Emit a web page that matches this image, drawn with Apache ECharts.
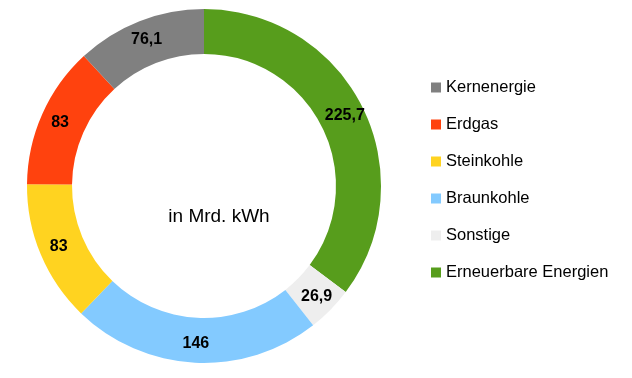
<!DOCTYPE html>
<html>
<head>
<meta charset="utf-8">
<script src="https://cdn.jsdelivr.net/npm/echarts@6/dist/echarts.min.js"></script>
<style>html,body{margin:0;padding:0;background:#fff}#c{width:632px;height:378px}</style>
</head>
<body>
<div id="c"></div>
<script>
const categories = ["Erneuerbare Energien", "Sonstige", "Braunkohle", "Steinkohle", "Erdgas", "Kernenergie"];
const values = [225.7, 26.9, 146, 83, 83, 76.1];
const colors = ["#579d1c", "#eeeeee", "#83caff", "#ffd320", "#ff420e", "#808080"];
const legendOrder = ["Kernenergie", "Erdgas", "Steinkohle", "Braunkohle", "Sonstige", "Erneuerbare Energien"];
const centerText = "in Mrd. kWh";

const chart = echarts.init(document.getElementById('c'), null, {renderer: 'canvas'});
chart.setOption({
  animation: false,
  backgroundColor: '#ffffff',
  legend: {
    orient: 'vertical',
    left: 431,
    top: 79,
    padding: 0,
    itemWidth: 10,
    itemHeight: 10,
    itemGap: 20,
    icon: 'rect',
    data: legendOrder,
    selectedMode: false,
    textStyle: {fontFamily: 'Liberation Sans, Arial', fontSize: 16.5, lineHeight: 16, height: 16, color: '#000', padding: [0,0,0,0]}
  },
  graphic: [{
    type: 'text',
    x: 219,
    y: 217,
    style: {text: centerText, font: '19px "Liberation Sans", Arial', fill: '#000', align: 'center', verticalAlign: 'middle'}
  }],
  series: [{
    type: 'pie',
    center: [204, 186],
    radius: [132, 177],
    startAngle: 90,
    clockwise: true,
    silent: true,
    label: {
      show: true,
      position: 'inside',
      formatter: p => String(p.value).replace('.', ','),
      fontFamily: 'Liberation Sans, Arial',
      fontSize: 16,
      fontWeight: 'bold',
      color: '#000'
    },
    labelLine: {show: false},
    itemStyle: {borderWidth: 0},
    data: categories.map((n, i) => ({name: n, value: values[i], itemStyle: {color: colors[i]}}))
  }]
});
</script>
</body>
</html>
